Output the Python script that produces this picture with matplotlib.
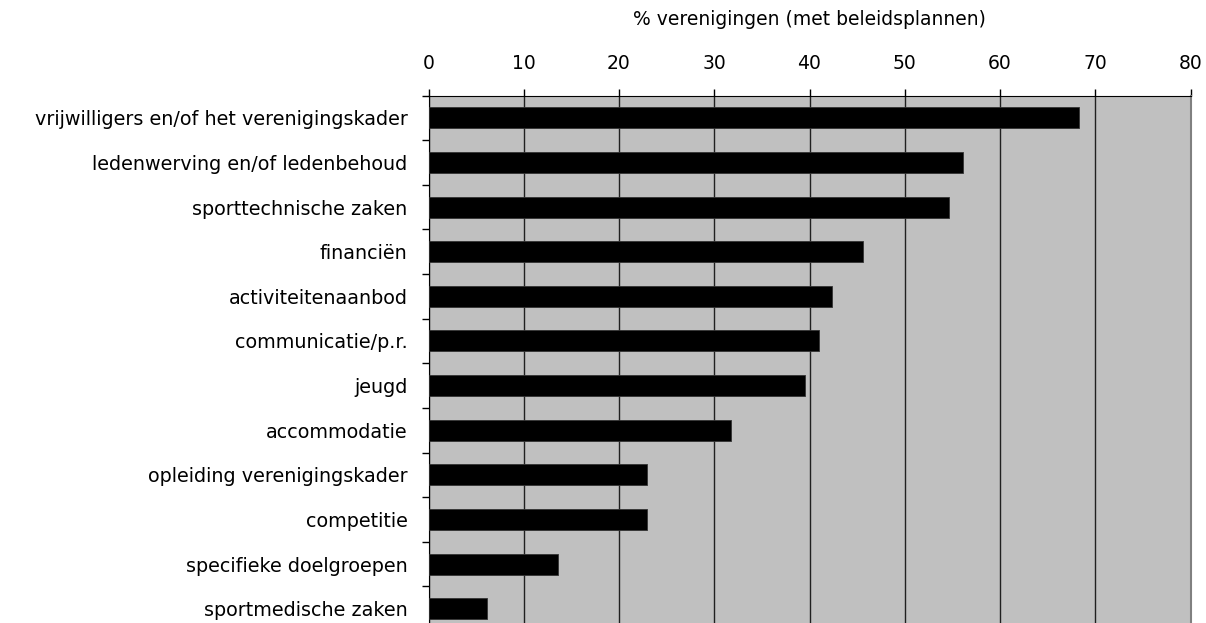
import matplotlib
matplotlib.use("Agg")
import matplotlib.pyplot as plt
import numpy as np

categories = [
    "vrijwilligers en/of het verenigingskader",
    "ledenwerving en/of ledenbehoud",
    "sporttechnische zaken",
    "financiën",
    "activiteitenaanbod",
    "communicatie/p.r.",
    "jeugd",
    "accommodatie",
    "opleiding verenigingskader",
    "competitie",
    "specifieke doelgroepen",
    "sportmedische zaken",
]
values = [68.3, 56.1, 54.6, 45.6, 42.4, 41.0, 39.5, 31.8, 22.9, 22.9, 13.6, 6.1]
xticks = [0, 10, 20, 30, 40, 50, 60, 70, 80]
xlabel = "% verenigingen (met beleidsplannen)"

plt.rcParams['font.family'] = ['DejaVu Sans']

fig = plt.figure(figsize=(12.06, 6.23), dpi=100)
ax = fig.add_axes([428.5 / 1206, -8 / 623, (1190.5 - 428.5) / 1206, (631 - 95.5) / 623])
ax.set_facecolor('#C0C0C0')

n = len(categories)
y = np.arange(n)
ax.barh(y, values, height=0.47, color='black', edgecolor='#333333', linewidth=0.6, zorder=3)

ax.set_xlim(0, 80)
ax.set_ylim(n - 0.5, -0.5)
ax.set_xticks(xticks)
ax.xaxis.tick_top()
ax.xaxis.set_label_position('top')
ax.set_xlabel(xlabel, fontsize=13.5, labelpad=21)
ax.tick_params(axis='x', which='major', direction='out', length=5, width=1, pad=11, labelsize=13.5, color='black')
ax.grid(axis='x', color='#202020', linewidth=1, zorder=1)

ax.set_yticks(y)
ax.set_yticklabels(categories, fontsize=13.8)
ax.tick_params(axis='y', which='major', length=0, pad=15)
ax.set_yticks(np.arange(n + 1) - 0.5, minor=True)
ax.tick_params(axis='y', which='minor', direction='out', length=5, width=1, color='black')

ax.spines['left'].set_color('black')
ax.spines['top'].set_color('black')
ax.spines['right'].set_color('#808080')
ax.spines['right'].set_linewidth(1.5)
ax.spines['bottom'].set_visible(False)

fig.savefig('out.png', dpi=100)
